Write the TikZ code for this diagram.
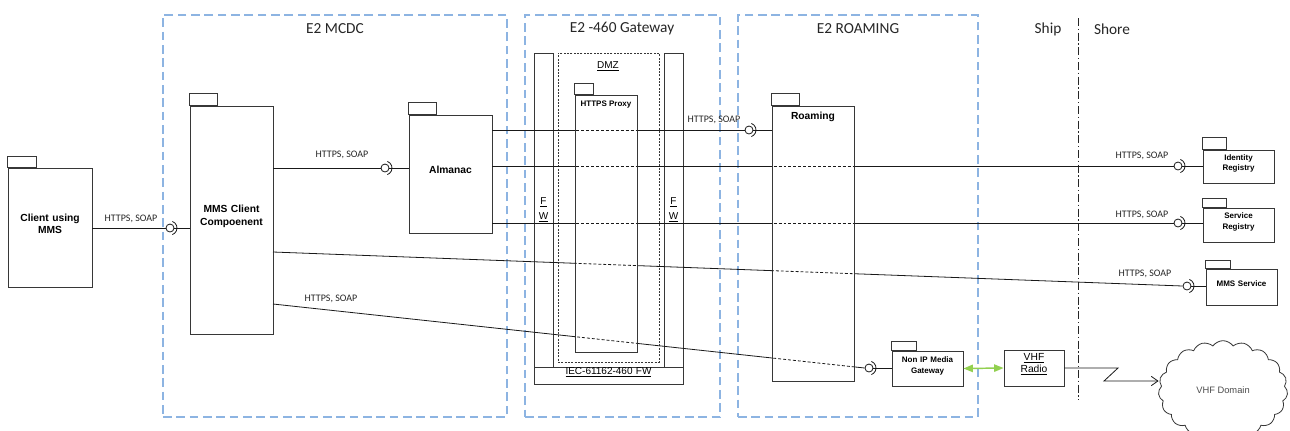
\documentclass[tikz,border=0pt]{standalone}
\usepackage{fontspec}
\setmainfont{Carlito}
\newfontfamily\arialf{Liberation Sans}
\usetikzlibrary{fit,arrows.meta,shapes.symbols}

\definecolor{zoneblue}{RGB}{141,180,226}
\definecolor{linkgreen}{RGB}{146,208,80}
\definecolor{boxgray}{RGB}{55,55,55}

\tikzset{
  zone/.style={draw=zoneblue, line width=1pt, dash pattern=on 6.5pt off 3.5pt},
  zonetitle/.style={font=\fontsize{11.5}{13}\selectfont, text=black!85},
  comp/.style={draw=boxgray, fill=white, line width=0.7pt, inner sep=0pt},
  wall/.style={draw=boxgray, line width=0.7pt, inner sep=0pt},
  bigname/.style={font=\arialf\bfseries\fontsize{7.7}{9.5}\selectfont, align=center},
  smallname/.style={font=\arialf\bfseries\fontsize{6}{8}\selectfont, align=center},
  plainname/.style={font=\arialf\fontsize{7.5}{9}\selectfont, align=center},
  proto/.style={font=\fontsize{7.5}{9}\selectfont, text=black!85},
  wire/.style={draw=black!90, line width=0.6pt},
  behind/.style={wire, dash pattern=on 2.2pt off 1.5pt},
  ball/.style={circle, draw=black!90, fill=white, line width=0.6pt, inner sep=0pt, minimum size=6pt},
}

\newcommand{\longwires}{almanac.east |- s3/s3, almanac.east |- s4/s4, almanac.east |- s5/s5, mc6/s6, mc7/s7}

\begin{document}
\begin{tikzpicture}[x=0.75pt, y=-0.75pt]
  \useasboundingbox (0,0) rectangle (1290,430);

  % zones
  \node[zone, inner sep=0pt, fit={(163,15) (507,417)}] (mcdc) {};
  \node[zone, inner sep=0pt, fit={(525,15) (720,417)}] (gw) {};
  \node[zone, inner sep=0pt, fit={(738,15) (978,417)}] (roamzone) {};
  \node[zonetitle] (mcdctitle) at (335,29) {E2 MCDC};
  \node[zonetitle] (gwtitle) at (622,29) {E2 -460 Gateway};
  \node[zonetitle] (roamtitle) at (858,29) {E2 ROAMING};
  \node[zonetitle] (ship) at (1048,29) {Ship};
  \node[zonetitle] (shore) at (1112,29) {Shore};
  \draw[black!85, line width=0.6pt, dash pattern=on 6pt off 2pt on 1pt off 2pt] (1078,18) -- (1078,400);

  % gateway walls
  \node[wall, fit={(534,53) (553,367)}] (fwl) {};
  \node[wall, fit={(664,53) (683,367)}] (fwr) {};
  \node[wall, fit={(534,367) (683,384)}, plainname] (iec) {\underline{IEC-61162-460 FW}};
  \node[wall, dash pattern=on 1.5pt off 1pt, line width=0.5pt, fit={(558,53) (659,362)}] (dmz) {};
  \node[plainname] (dmzlbl) at (608,66) {\underline{DMZ}};
  \node[plainname, font=\arialf\fontsize{7.5}{11}\selectfont] (fwllbl) at (543.5,210) {\underline{F}\\\underline{W}};
  \node[plainname, font=\arialf\fontsize{7.5}{11}\selectfont] (fwrlbl) at (673.5,210) {\underline{F}\\\underline{W}};

  % components
  \node[comp, fit={(8,168) (92,287)}, bigname] (client) {Client using\\MMS};
  \node[comp, fit={(190,106) (273,334)}, bigname] (mmsclient) {MMS Client\\Compoenent};
  \node[comp, fit={(409,115) (492,233)}, bigname] (almanac) {Almanac};
  \node[comp, fit={(1203,150) (1274,183)}, smallname] (idreg) {Identity\\Registry};
  \node[comp, fit={(1203,208) (1274,242)}, smallname] (servreg) {Service\\Registry};
  \node[comp, fit={(1206,269) (1277,305)}, smallname] (mmsserv) {MMS Service};
  \node[comp, fit={(892,351) (963,386)}, smallname] (nonip) {Non IP Media\\Gateway};
  \node[comp, fit={(1004,350) (1064,386)}, font=\arialf\fontsize{7.7}{9}\selectfont, align=center] (vhf) {\underline{VHF}\\\underline{Radio}};
  \foreach \b/\w/\h in {client/29/11, mmsclient/28/12, almanac/28/12, idreg/24/12, servreg/24/9, mmsserv/25/8, nonip/25/9}
    \draw[comp] (\b.north west) rectangle ++(\w,-\h);

  % sockets
  \node[ball] (s1) at (170,228) {};
  \node[ball] (s2) at (385,168) {};
  \node[ball] (s3) at (749,130) {};
  \node[ball] (s4) at (1178,166) {};
  \node[ball] (s5) at (1178,223) {};
  \node[ball] (s6) at (1187,286) {};
  \node[ball] (s7) at (869,368) {};
  \foreach \s in {s1,s2,s3,s4,s5,s6,s7}
    \draw[wire] ([shift={(-70:5.25pt)}]\s.center) arc[start angle=-70, end angle=70, radius=5.25pt];

  \coordinate (mc6) at (273,252);
  \coordinate (mc7) at (273,304);

  % wires
  \draw[wire] (client.east |- s1) -- (s1.west);
  \draw[wire] (mmsclient.east |- s2) -- (s2.west);
  \foreach \from/\to in \longwires
    \draw[wire] (\from) -- (\to.west);

  % boxes the wires pass behind
  \node[comp, fit={(575,95) (637,352)}] (proxy) {};
  \draw[comp] (proxy.north west) rectangle ++(19,-11);
  \node[smallname] (proxylbl) at (606,105) {HTTPS Proxy};
  \node[comp, fit={(772,106) (854,381)}] (roaming) {};
  \draw[comp] (roaming.north west) rectangle ++(28,-12);
  \node[bigname] (roamlbl) at (813,117) {Roaming};

  \begin{scope}
    \clip (proxy.north west) rectangle (proxy.south east)
          (roaming.north west) rectangle (roaming.south east);
    \foreach \from/\to in \longwires
      \draw[behind] (\from) -- (\to.west);
  \end{scope}
  \foreach \s/\b in {s1/mmsclient, s2/almanac, s3/roaming, s4/idreg, s5/servreg, s6/mmsserv, s7/nonip}
    \draw[wire] (\s.east) -- (\b.west |- \s);

  % radio link
  \draw[draw=linkgreen, line width=1.1pt, {Triangle[length=7pt,width=5.5pt]}-{Triangle[length=7pt,width=5.5pt]}] (nonip.east) -- (vhf.west);
  \node[cloud, draw=boxgray, fill=white, line width=0.6pt, cloud puffs=19, cloud puff arc=110, cloud ignores aspect,
        minimum width=97pt, minimum height=74pt, inner sep=0pt, font=\arialf\fontsize{7}{8}\selectfont, text=black!70] (vhfdom) at (1223,390) {VHF Domain};
  \coordinate (zz1) at (1118,368);
  \coordinate (zz2) at (1104,381);
  \draw[wire, -{Straight Barb[length=5pt,width=7pt]}] (vhf.east) -- (zz1) -- (zz2) -- (vhfdom.west |- zz2);

  % protocol labels
  \foreach \n/\p in {1/{131,219}, 2/{342,155}, 3/{714,120}, 4/{1142,156}, 5/{1142,215}, 6/{1145,274}, 7/{331,299}}
    \node[proto] (p\n) at (\p) {HTTPS, SOAP};
\end{tikzpicture}
\end{document}
